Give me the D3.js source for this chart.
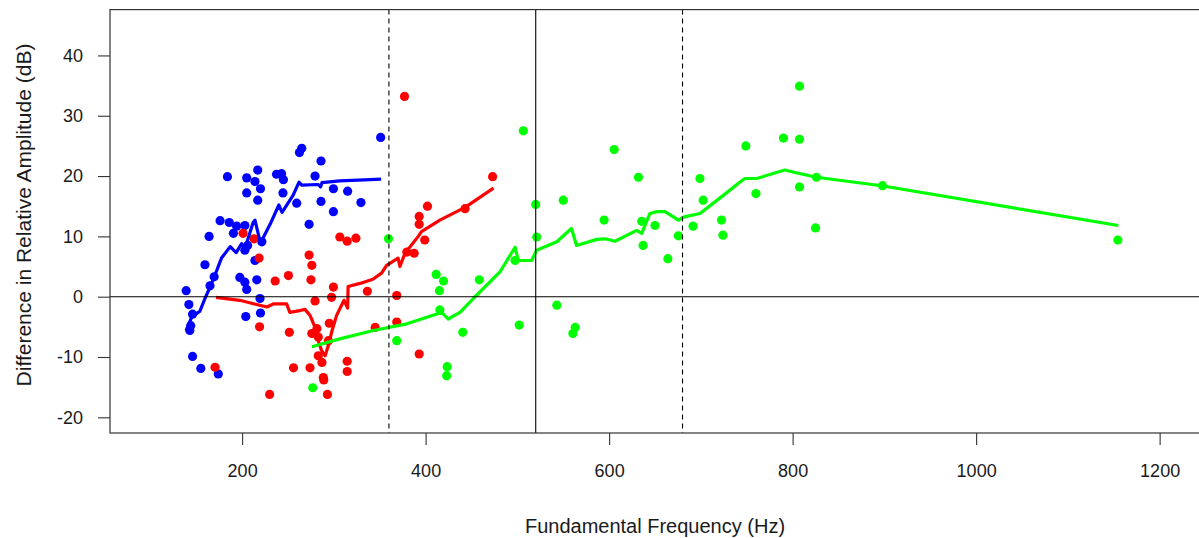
<!DOCTYPE html>
<html>
<head>
<meta charset="utf-8">
<script src="https://cdn.jsdelivr.net/npm/d3@7"></script>
<style>
  body { margin: 0; background: #fff; }
  svg { display: block; }
  text { font-family: "Liberation Sans", Arial, sans-serif; fill: #1a1a1a; }
</style>
</head>
<body>
<svg id="chart" width="1199" height="538"></svg>
<script>
// ---- data: fundamental frequency (Hz) vs difference in relative amplitude (dB) ----
const blueF0  = [351, 265, 262.5, 286, 217, 237.5, 243, 245, 184, 205, 214, 220, 279.5, 299.5, 315, 205, 244.5, 217, 259.5, 286, 329.5, 299.5, 273, 176, 186, 194, 203, 164, 190.5, 221.5, 206, 203, 214, 159.5, 169.5, 165, 139, 197.5, 203, 205, 216, 142, 219.5, 220, 204, 146, 144, 143, 146, 155, 174];
const blueDiff = [26.4, 24.6, 23.9, 22.5, 21.0, 20.3, 20.4, 19.4, 19.9, 19.7, 19.1, 17.9, 20.0, 17.9, 17.5, 17.2, 17.2, 16.0, 15.5, 15.8, 15.6, 14.1, 12.0, 12.6, 12.3, 11.7, 11.8, 10.0, 10.5, 9.1, 8.5, 7.7, 6.0, 5.3, 3.3, 1.8, 1.0, 3.2, 2.4, 1.2, 2.8, -1.3, -0.3, -2.7, -3.3, -2.9, -4.8, -5.6, -9.9, -11.9, -12.8];

const redF0  = [377, 473, 402, 393, 393, 443, 399, 379.5, 387.5, 201, 213, 218.5, 306.5, 314.5, 324, 273, 276, 250.5, 236, 275, 299.5, 297.5, 336.5, 279.5, 368.5, 219, 251.5, 276, 281.5, 283, 295, 294, 345, 368.5, 283, 287, 314.5, 314.5, 256, 274, 288.5, 289, 230, 293, 170.5, 393];
const redDiff = [33.2, 19.9, 15.0, 13.3, 12.0, 14.6, 9.4, 7.4, 7.2, 10.5, 9.6, 6.4, 9.9, 9.2, 9.7, 6.9, 5.2, 3.5, 2.6, 2.8, 1.6, -0.1, 0.9, -0.7, 0.2, -5.0, -5.9, -6.1, -5.3, -6.7, -4.4, -7.3, -5.1, -4.2, -9.8, -10.9, -10.7, -12.4, -11.8, -11.8, -13.4, -13.8, -16.2, -16.2, -11.7, -9.5];

const greenF0  = [277, 359.5, 368.5, 411.5, 419.5, 415, 415.5, 423.5, 423, 440.5, 458.5, 497.5, 502, 506.5, 520, 521, 543, 563, 560.5, 550, 594.5, 605.5, 632, 635.5, 637, 650, 664, 675.5, 691.5, 699, 702.5, 722.5, 724, 749, 760, 790, 807.5, 807.5, 807.5, 826, 825, 898, 1154.5];
const greenDiff = [-15.1, 9.6, -7.3, 3.7, 2.6, 1.0, -2.2, -11.6, -13.1, -5.9, 2.8, 6.0, -4.7, 27.5, 15.3, 9.9, -1.4, -5.1, -6.1, 16.0, 12.7, 24.4, 19.8, 12.5, 8.5, 11.8, 6.3, 10.1, 11.7, 19.6, 16.0, 12.7, 10.2, 25.0, 17.1, 26.3, 26.1, 34.9, 18.2, 19.8, 11.4, 18.4, 9.4];

// smoothed trend for each group
const blueTrendF0  = [139, 145, 154, 159.5, 165, 172.5, 177.5, 187, 193.5, 199.5, 203, 206, 212, 214, 220, 230.5, 240, 243.5, 255.5, 262, 265, 283, 285.5, 287, 306.5, 339.5, 351.5];
const blueTrendDiff = [-5.6, -3.4, -2.4, -0.3, 1.6, 4.4, 6.4, 8.3, 7.3, 8.8, 7.9, 9.4, 12.3, 12.7, 8.9, 12.0, 15.2, 14.0, 16.8, 19.0, 18.5, 18.6, 18.2, 18.9, 19.2, 19.4, 19.5];

const redTrendF0  = [171.5, 197.5, 227, 234, 248.5, 252, 263, 268.5, 274, 279.5, 283, 286.5, 290.5, 294, 297.5, 303, 311, 315, 315.5, 328.5, 342.5, 352, 357.5, 370, 372, 377.5, 392, 395.5, 415.5, 443, 474];
const redTrendDiff = [-0.1, -0.6, -1.7, -1.2, -1.2, -2.6, -2.3, -2.1, -3.1, -5.1, -7.3, -8.9, -9.8, -8.1, -5.9, -3.1, -0.6, -1.9, 1.7, 2.2, 2.9, 3.9, 5.2, 6.4, 5.0, 7.2, 10.0, 10.8, 12.7, 14.8, 18.0];

const greenTrendF0  = [276, 306.5, 343, 379.5, 414, 417.5, 424.5, 437.5, 452, 481, 497.5, 501, 515.5, 521, 543, 559, 564.5, 586.5, 595.5, 606.5, 630, 635.5, 644.5, 652, 661, 675.5, 681, 699, 724.5, 741, 748, 761, 791.5, 802.5, 826, 897, 1155];
const greenTrendDiff = [-8.3, -7.0, -5.6, -4.5, -2.8, -2.6, -3.7, -2.6, -0.3, 4.1, 8.2, 6.0, 6.0, 7.7, 9.1, 11.3, 8.5, 9.5, 9.6, 9.2, 11.0, 10.5, 13.8, 14.1, 14.1, 12.7, 13.2, 13.8, 16.8, 18.8, 19.6, 19.6, 21.0, 20.6, 19.8, 18.4, 11.8];

// axis ticks and reference lines
const xTicks = [200, 400, 600, 800, 1000, 1200];
const yTicks = [-20, -10, 0, 10, 20, 30, 40];
const dashedRefs = [360, 680];
const solidRefs = [520];
const zeroRef = 0;

const xLabel = "Fundamental Frequency (Hz)";
const yLabel = "Difference in Relative Amplitude (dB)";

// ---- layout ----
const plot = { left: 110, right: 1200, top: 9.6, bottom: 433 };
const svg = d3.select("#chart");

const x = d3.scaleLinear().domain([56, 1244]).range([plot.left, plot.right]);
const y = d3.scaleLinear().domain([-22.6, 47.6]).range([plot.bottom, plot.top]);

const zip = (a, b) => a.map((v, i) => [v, b[i]]);
const groups = [
  { color: "#0000ff", pts: zip(blueF0, blueDiff),  trend: zip(blueTrendF0, blueTrendDiff) },
  { color: "#ff0000", pts: zip(redF0, redDiff),    trend: zip(redTrendF0, redTrendDiff) },
  { color: "#00ff00", pts: zip(greenF0, greenDiff), trend: zip(greenTrendF0, greenTrendDiff) }
];

const line = d3.line().x(d => x(d[0])).y(d => y(d[1]));

const marks = svg.append("g");
groups.forEach(g => {
  marks.append("g").selectAll("circle").data(g.pts).join("circle")
    .attr("cx", d => x(d[0])).attr("cy", d => y(d[1]))
    .attr("r", 4.6).attr("fill", g.color);
});
groups.forEach(g => {
  marks.append("path").datum(g.trend)
    .attr("d", line).attr("fill", "none")
    .attr("stroke", g.color).attr("stroke-width", 3.2)
    .attr("stroke-linejoin", "round").attr("stroke-linecap", "butt");
});

// reference lines
const refs = svg.append("g").attr("stroke", "#000").attr("stroke-width", 1.1);
refs.append("line")
  .attr("x1", plot.left).attr("x2", plot.right)
  .attr("y1", y(zeroRef)).attr("y2", y(zeroRef));
solidRefs.forEach(v => refs.append("line")
  .attr("x1", x(v)).attr("x2", x(v)).attr("y1", plot.top).attr("y2", plot.bottom));
dashedRefs.forEach(v => refs.append("line")
  .attr("x1", x(v)).attr("x2", x(v)).attr("y1", plot.top).attr("y2", plot.bottom)
  .attr("stroke-dasharray", "5,4"));

// axes (plain hyphen-minus on negative labels)
const fmt = d => String(d);
const xAxis = d3.axisBottom(x).tickValues(xTicks).tickSize(12).tickPadding(19).tickFormat(fmt);
const yAxis = d3.axisLeft(y).tickValues(yTicks).tickSize(12).tickPadding(15).tickFormat(fmt);

const gx = svg.append("g").attr("transform", `translate(0,${plot.bottom})`).call(xAxis);
const gy = svg.append("g").attr("transform", `translate(${plot.left},0)`).call(yAxis);
[gx, gy].forEach(g => {
  g.select(".domain").remove();
  g.selectAll(".tick line").attr("stroke", "#333").attr("stroke-width", 1.1);
  g.selectAll(".tick text").attr("font-size", 18).attr("fill", "#1a1a1a")
    .style("font-family", '"Liberation Sans", Arial, sans-serif');
});

// plot frame
svg.append("rect")
  .attr("x", plot.left).attr("y", plot.top)
  .attr("width", plot.right - plot.left).attr("height", plot.bottom - plot.top)
  .attr("fill", "none").attr("stroke", "#333").attr("stroke-width", 1.2);

// axis titles
svg.append("text")
  .attr("x", x(650)).attr("y", 533)
  .attr("text-anchor", "middle").attr("font-size", 20)
  .text(xLabel);
svg.append("text")
  .attr("transform", `translate(31,215) rotate(-90)`)
  .attr("text-anchor", "middle").attr("font-size", 21)
  .text(yLabel);
</script>
</body>
</html>
